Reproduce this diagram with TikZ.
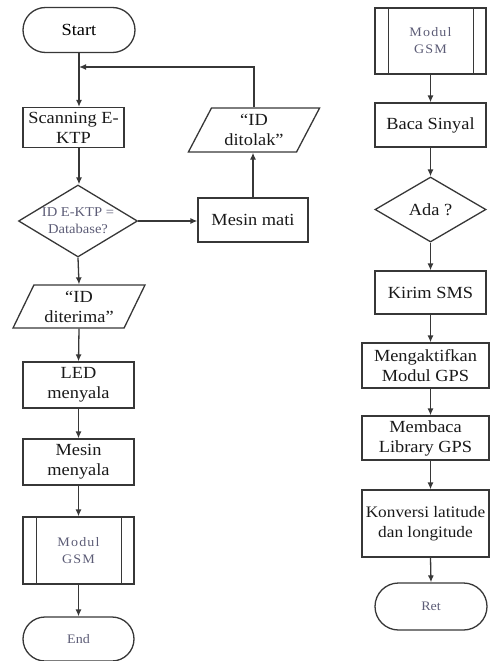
\documentclass[tikz,border=0pt]{standalone}
\usepackage{fontspec}
\setmainfont{Liberation Serif}[FakeStretch=1.08]
\usepackage{tikz}
\usepackage{xcolor}
\usetikzlibrary{shapes.geometric,shapes.misc,arrows.meta}

\definecolor{lineclr}{RGB}{55,55,55}
\definecolor{faintclr}{RGB}{92,92,118}
\newcommand{\bigtxt}{\fontsize{17}{20}\selectfont}
\newcommand{\smalltxt}{\fontsize{13}{17}\selectfont}

\tikzset{
  box/.style={draw=lineclr, line width=1.3pt, rectangle, inner sep=0pt, align=center, font=\bigtxt, text=black!90},
  term/.style={draw=lineclr, line width=1.3pt, rounded rectangle, inner sep=0pt, align=center},
  decide/.style={draw=lineclr, line width=1.3pt, diamond, inner sep=0pt, align=center},
  inout/.style={draw=lineclr, line width=1.3pt, trapezium, trapezium left angle=63, trapezium right angle=117, trapezium stretches=true, inner sep=0pt, align=center, font=\bigtxt, text=black!90},
  subrt/.style={box, font=\smalltxt\addfontfeature{LetterSpace=9}, text=faintclr},
  flow/.style={draw=lineclr, line width=1.3pt, -{Latex[length=7pt,width=6pt]}},
}

\begin{document}
\begin{tikzpicture}[x=1pt,y=1pt,yscale=-1,xscale=1]
\useasboundingbox (0,0) rectangle (490,661);

%Flowchart: Terminator
\node[term, minimum width=112pt, minimum height=45pt, font=\bigtxt] (start) at (79,30) {Start};
%Flowchart: Process
\node[box, minimum width=101pt, minimum height=40pt] (scan) at (73.5,127.5) {Scanning E-\\KTP};
%Flowchart: Decision
\node[decide, minimum width=119pt, minimum height=72pt, aspect=1.65, inner sep=-3pt, font=\fontsize{13.5}{17}\selectfont, text=faintclr] (cek) at (78,221) {ID E-KTP =\\Database?};
%Flowchart: Process
\node[box, minimum width=110pt, minimum height=44pt] (mati) at (253,220) {Mesin mati};
%Flowchart: Data
\node[inout, minimum width=132pt, minimum height=44pt] (tolak) at (254,130) {“ID\\ditolak”};
%Flowchart: Data
\node[inout, minimum width=132pt, minimum height=43pt] (terima) at (79,306.5) {“ID\\diterima”};
%Flowchart: Process
\node[box, minimum width=111pt, minimum height=46pt] (led) at (78.5,385) {LED\\menyala};
\node[box, minimum width=111pt, minimum height=46pt] (nyala) at (78.5,462) {Mesin\\menyala};
%Flowchart: Predefined Process
\node[subrt, minimum width=111pt, minimum height=67pt] (gsmA) at (78.5,550.5) {Modul\\GSM};
\draw[lineclr, line width=1.3pt] ([xshift=14pt]gsmA.north west) -- ([xshift=14pt]gsmA.south west);
\draw[lineclr, line width=1.3pt] ([xshift=-13pt]gsmA.north east) -- ([xshift=-13pt]gsmA.south east);
%Flowchart: Terminator
\node[term, minimum width=111pt, minimum height=44pt, font=\smalltxt, text=faintclr] (stop) at (78.5,639) {End};

%Flowchart: Predefined Process
\node[subrt, minimum width=111pt, minimum height=66pt] (gsmB) at (430.5,41) {Modul\\GSM};
\draw[lineclr, line width=1.3pt] ([xshift=14pt]gsmB.north west) -- ([xshift=14pt]gsmB.south west);
\draw[lineclr, line width=1.3pt] ([xshift=-13pt]gsmB.north east) -- ([xshift=-13pt]gsmB.south east);
%Flowchart: Process
\node[box, minimum width=111pt, minimum height=44pt] (baca) at (430.5,125) {Baca Sinyal};
%Flowchart: Decision
\node[decide, minimum width=111pt, minimum height=65pt, aspect=1.7, font=\bigtxt, text=black!90] (ada) at (430.5,209.5) {Ada ?};
%Flowchart: Process
\node[box, minimum width=111pt, minimum height=43pt] (sms) at (430.5,292.5) {Kirim SMS};
\node[box, minimum width=127pt, minimum height=45pt] (gps) at (425.5,365.5) {Mengaktifkan\\Modul GPS};
\node[box, minimum width=127pt, minimum height=44pt] (lib) at (425.5,438) {Membaca\\Library GPS};
\node[box, minimum width=127pt, minimum height=67pt, font=\fontsize{16}{20}\selectfont] (konv) at (425.5,523.5) {Konversi latitude\\dan longitude};
%Flowchart: Terminator
\node[term, minimum width=112pt, minimum height=47pt, font=\smalltxt, text=faintclr] (ret) at (431,606.5) {Ret};

%Straight Lines
\coordinate (back) at (79,67);
\draw[flow] (start.south) -- (start.south |- scan.north);
\draw[flow] (tolak.north) |- (back);
\draw[flow] (start.south |- scan.south) -- (start.south |- cek.north);
\draw[flow] (cek.east) -- (cek.east -| mati.west);
\draw[flow] (mati.north) -- (mati.north |- tolak.south);
\draw[flow] (cek.south) -- (terima.north);
\draw[flow] (terima.south) -- (led.north);
\draw[flow] (led.south) -- (nyala.north);
\draw[flow] (nyala.south) -- (gsmA.north);
\draw[flow] (gsmA.south) -- (stop.north);

\draw[flow] (gsmB.south) -- (baca.north);
\draw[flow] (baca.south) -- (ada.north);
\draw[flow] (ada.south) -- (sms.north);
\draw[flow] (sms.south) -- (sms.south |- gps.north);
\draw[flow] (sms.south |- gps.south) -- (sms.south |- lib.north);
\draw[flow] (sms.south |- lib.south) -- (sms.south |- konv.north);
\draw[flow] (sms.south |- konv.south) -- (ret.north);
\end{tikzpicture}
\end{document}
